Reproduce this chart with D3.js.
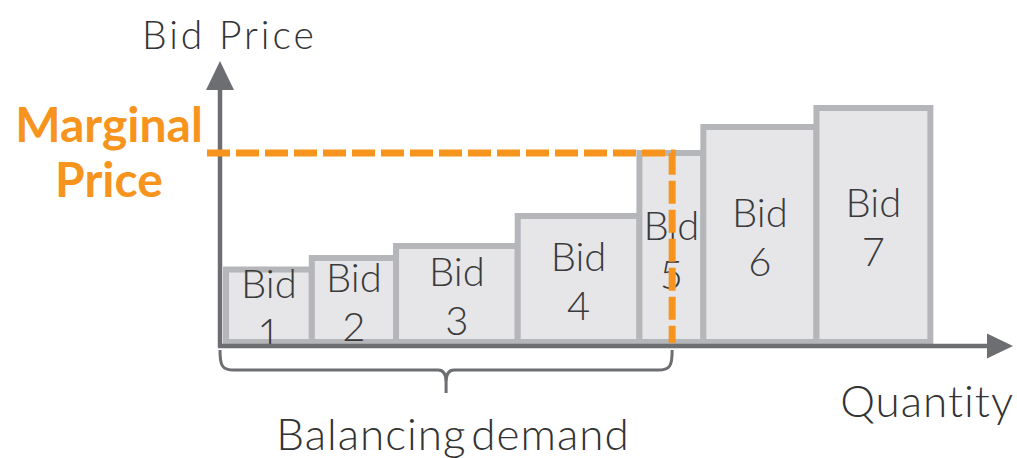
<!DOCTYPE html>
<html lang="en">
  <head>
    <meta charset="UTF-8" />
    <script src="https://d3js.org/d3.v7.min.js"></script>
    <title>Bid Price vs Quantity</title>
    <style>
      body {
        margin: 0;
        background: #fff;
      }
      svg text {
        font-family: "Lato", sans-serif;
      }
    </style>
  </head>
  <body>
    <svg id="chart" width="1017" height="458"></svg>
    <script>
      const width = 1017;
      const height = 458;

      // bids: name, quantity offered, price asked
      const bidNames = ["1", "2", "3", "4", "5", "6", "7"];
      const quantities = [11.0, 10.8, 15.6, 15.6, 8.2, 14.5, 14.6];
      const prices = [30.6, 35.2, 40.0, 52.0, 77.2, 87.6, 95.2];
      const balancingDemand = 57.2;
      const marginalBid = 4; // index of the bid that sets the price

      const axisColor = "#6d6e71";
      const orange = "#f7941d";

      let x = d3.scaleLinear().domain([0, 100]).range([226, 1006]);
      let y = d3.scaleLinear().domain([0, 114]).range([346, 61]);

      // cumulative start of each bid along the quantity axis
      let starts = [];
      let acc = 0;
      quantities.forEach(q => {
        starts.push(acc);
        acc += q;
      });

      const bids = bidNames.map((n, i) => ({
        name: n,
        x0: starts[i],
        x1: starts[i] + quantities[i],
        price: prices[i]
      }));

      const svg = d3.select("#chart");

      // bars
      const g = svg.append("g");
      g.selectAll("rect")
        .data(bids)
        .join("rect")
        .attr("x", d => x(d.x0))
        .attr("y", d => y(d.price))
        .attr("width", d => x(d.x1) - x(d.x0))
        .attr("height", d => y(0) - y(d.price) - 4)
        .attr("fill", "#e6e6e8")
        .attr("stroke", "#b5b6b9")
        .attr("stroke-width", 6);

      // bar labels, centred in each bar
      const labels = g.selectAll(".bid-label")
        .data(bids)
        .join("text")
        .attr("class", "bid-label")
        .attr("text-anchor", "middle")
        .attr("fill", "#3a3a3c")
        .style("font-weight", 300)
        .style("font-size", "40px");
      labels.append("tspan")
        .attr("x", d => (x(d.x0) + x(d.x1)) / 2)
        .attr("y", d => (y(d.price) + y(0)) / 2 - 10)
        .text("Bid");
      labels.append("tspan")
        .attr("x", d => (x(d.x0) + x(d.x1)) / 2)
        .attr("y", d => (y(d.price) + y(0)) / 2 + 39)
        .text(d => d.name);

      // axes with arrow heads
      const axes = svg.append("g").attr("fill", axisColor);
      axes.append("line")
        .attr("x1", 220).attr("y1", y(0) + 1)
        .attr("x2", 220).attr("y2", y(114) + 20)
        .attr("stroke", axisColor)
        .attr("stroke-width", 4.5);
      axes.append("path")
        .attr("d", d3.line()([[206, y(114) + 29], [220, y(114)], [234, y(114) + 29]]) + "Z");
      axes.append("line")
        .attr("x1", 218).attr("y1", y(0))
        .attr("x2", 990).attr("y2", y(0))
        .attr("stroke", axisColor)
        .attr("stroke-width", 4.5);
      axes.append("path")
        .attr("d", d3.line()([[987, y(0) - 12.5], [1013, y(0)], [987, y(0) + 12.5]]) + "Z");

      // marginal price lines
      const mp = prices[marginalBid];
      svg.append("path")
        .attr("d", d3.line()([[207, y(mp)], [x(balancingDemand), y(mp)], [x(balancingDemand), y(0) - 3]]))
        .attr("fill", "none")
        .attr("stroke", orange)
        .attr("stroke-width", 7)
        .attr("stroke-dasharray", "23,6");

      // brace under the balancing demand
      const bl = 220;
      const br = x(balancingDemand);
      const bm = (bl + br) / 2;
      const path = d3.path();
      path.moveTo(bl, 350);
      path.bezierCurveTo(bl, 366, bl + 2, 370, bl + 14, 370);
      path.lineTo(bm - 8, 370);
      path.quadraticCurveTo(bm, 370, bm, 382);
      path.lineTo(bm, 393);
      path.moveTo(bm, 382);
      path.quadraticCurveTo(bm, 370, bm + 8, 370);
      path.lineTo(br - 14, 370);
      path.bezierCurveTo(br - 2, 370, br, 366, br, 350);
      svg.append("path")
        .attr("d", path.toString())
        .attr("fill", "none")
        .attr("stroke", axisColor)
        .attr("stroke-width", 3);

      // titles
      svg.append("text")
        .attr("x", 142).attr("y", 49)
        .attr("fill", "#333")
        .style("font-weight", 300)
        .style("font-size", "39px")
        .style("letter-spacing", "3px")
        .text("Bid Price");
      svg.append("text")
        .attr("x", 1014).attr("y", 417)
        .attr("text-anchor", "end")
        .attr("fill", "#333")
        .style("font-weight", 300)
        .style("font-size", "44px")
        .style("letter-spacing", "1px")
        .text("Quantity");
      svg.append("text")
        .attr("x", 453).attr("y", 450)
        .attr("text-anchor", "middle")
        .attr("fill", "#333")
        .style("font-weight", 300)
        .style("font-size", "44px")
        .style("letter-spacing", "1px")
        .style("word-spacing", "-8px")
        .text("Balancing demand");

      const mt = svg.append("text")
        .attr("text-anchor", "middle")
        .attr("fill", orange)
        .style("font-weight", 700)
        .style("font-size", "48px");
      mt.append("tspan").attr("x", 109).attr("y", 142).text("Marginal");
      mt.append("tspan").attr("x", 109).attr("y", 197).text("Price");
    </script>
  </body>
</html>
